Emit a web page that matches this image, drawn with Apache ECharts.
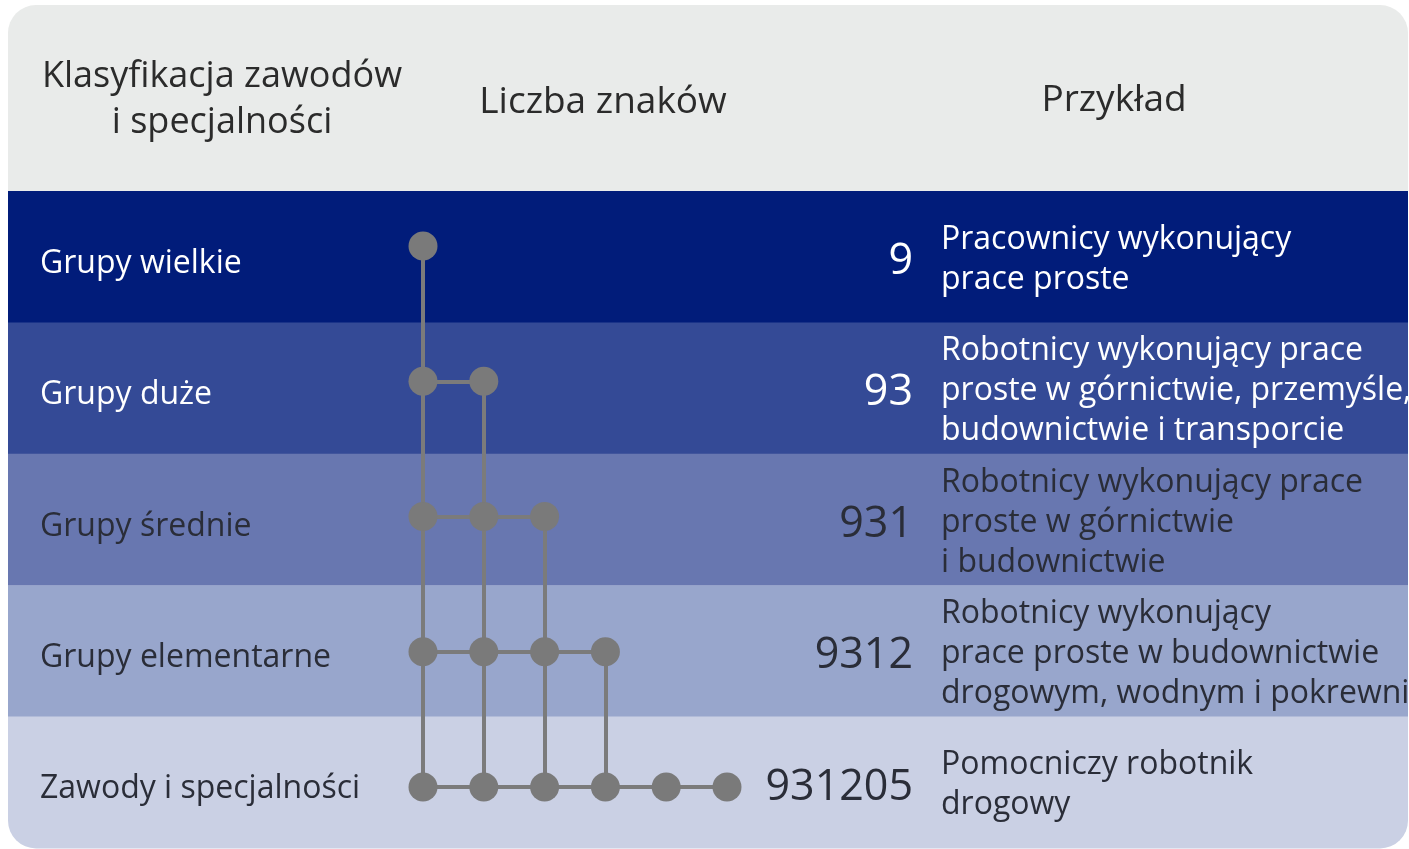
<!DOCTYPE html>
<html>
<head>
<meta charset="utf-8">
<script src="https://cdn.jsdelivr.net/npm/echarts@6/dist/echarts.min.js"></script>
<style>
html,body{margin:0;padding:0;background:#ffffff;}
#chart{width:1409px;height:849px;}
</style>
</head>
<body>
<div id="chart"></div>
<script>
// ---- data ----
const headers = ['Klasyfikacja zawodów\ni specjalności', 'Liczba znaków', 'Przykład'];
const rowNames = ['Grupy wielkie', 'Grupy duże', 'Grupy średnie', 'Grupy elementarne', 'Zawody i specjalności'];
const codes = ['9', '93', '931', '9312', '931205'];
const examples = [
  'Pracownicy wykonujący\nprace proste',
  'Robotnicy wykonujący prace\nproste w górnictwie, przemyśle,\nbudownictwie i transporcie',
  'Robotnicy wykonujący prace\nproste w górnictwie\ni budownictwie',
  'Robotnicy wykonujący\nprace proste w budownictwie\ndrogowym, wodnym i pokrewni',
  'Pomocniczy robotnik\ndrogowy'
];

// ---- styles ----
const bandColors = ['#011c7a', '#344a96', '#6877b0', '#98a6cc', '#cad0e4'];
const textColors = ['#ffffff', '#ffffff', '#2a2d38', '#2a2d38', '#2a2d38'];
const FONT = "'Open Sans', 'Noto Sans', sans-serif";
const CARD = {x: 8, y: 5, w: 1400, h: 843, r: 28};
const HEADER_H = 186;

// dots and connectors built from the codes
const dots = [];
codes.forEach((c, r) => { for (let d = 1; d <= c.length; d++) dots.push([d, r]); });
const lastRow = codes.length - 1;
const segs = [];
codes.forEach((c, r) => { if (c.length > 1) segs.push({coords: [[1, r], [c.length, r]]}); });
const maxLen = Math.max(...codes.map(c => c.length));
for (let d = 1; d <= maxLen; d++) {
  const first = codes.findIndex(c => c.length >= d);
  if (first < lastRow) segs.push({coords: [[d, first], [d, lastRow]]});
}

const chart = echarts.init(document.getElementById('chart'), null, {renderer: 'canvas'});
const bandTop = CARD.y + HEADER_H;
const option = {
  backgroundColor: '#ffffff',
  animation: false,
  grid: [
    {left: CARD.x, top: bandTop, width: CARD.w, height: CARD.y + CARD.h - bandTop},
    {left: 423, top: 246, width: 304, height: 541}
  ],
  xAxis: [
    {gridIndex: 0, type: 'value', min: 0, max: CARD.w, show: false},
    {gridIndex: 1, type: 'value', min: 1, max: maxLen, show: false}
  ],
  yAxis: [
    {gridIndex: 0, type: 'value', min: -0.5, max: rowNames.length - 0.5, inverse: true, show: false},
    {gridIndex: 1, type: 'value', min: 0, max: lastRow, inverse: true, show: false}
  ],
  graphic: [
    {type: 'rect', z: 0, shape: {x: CARD.x, y: CARD.y, width: CARD.w, height: HEADER_H + 10, r: [CARD.r, CARD.r, 0, 0]}, style: {fill: '#e9ebea'}},
    {type: 'text', z: 1, style: {text: headers[0], x: 222, y: 100, align: 'center', verticalAlign: 'middle', fontFamily: FONT, fontSize: 36, lineHeight: 46, fill: '#2b2b2b'}},
    {type: 'text', z: 1, style: {text: headers[1], x: 603, y: 102, align: 'center', verticalAlign: 'middle', fontFamily: FONT, fontSize: 37, fill: '#2b2b2b'}},
    {type: 'text', z: 1, style: {text: headers[2], x: 1114, y: 100, align: 'center', verticalAlign: 'middle', fontFamily: FONT, fontSize: 37, fill: '#2b2b2b'}}
  ],
  series: [
    {
      type: 'custom', xAxisIndex: 0, yAxisIndex: 0, z: 1,
      data: rowNames.map((n, i) => [i]),
      encode: {y: 0},
      renderItem: function (params, api) {
        const i = api.value(0);
        const cs = params.coordSys;
        const c = api.coord([0, i]);
        const h = api.size([0, 1])[1];
        const last = i === rowNames.length - 1;
        const col = textColors[i];
        return {
          type: 'group',
          children: [
            {type: 'rect', shape: {x: cs.x, y: c[1] - h / 2, width: cs.width, height: h + 0.5, r: last ? [0, 0, CARD.r, CARD.r] : 0}, style: {fill: bandColors[i]}},
            {type: 'text', style: {text: rowNames[i], x: cs.x + 32, y: c[1] + 7, align: 'left', verticalAlign: 'middle', fontFamily: FONT, fontSize: 32, fill: col}},
            {type: 'text', style: {text: codes[i], x: api.coord([905, i])[0], y: c[1] + 5, align: 'right', verticalAlign: 'middle', fontFamily: FONT, fontSize: 43, fill: col}},
            {type: 'text', style: {text: examples[i], x: api.coord([933, i])[0], y: c[1] + 3, align: 'left', verticalAlign: 'middle', fontFamily: FONT, fontSize: 32, lineHeight: 40, fill: col}}
          ]
        };
      }
    },
    {
      type: 'lines', coordinateSystem: 'cartesian2d', xAxisIndex: 1, yAxisIndex: 1, z: 3,
      data: segs,
      lineStyle: {color: '#7b7b7b', width: 4, opacity: 1, curveness: 0}
    },
    {
      type: 'scatter', xAxisIndex: 1, yAxisIndex: 1, z: 4,
      data: dots, symbol: 'circle', symbolSize: 29,
      itemStyle: {color: '#7a7a7a', opacity: 1}
    }
  ]
};
chart.setOption(option);
</script>
</body>
</html>
